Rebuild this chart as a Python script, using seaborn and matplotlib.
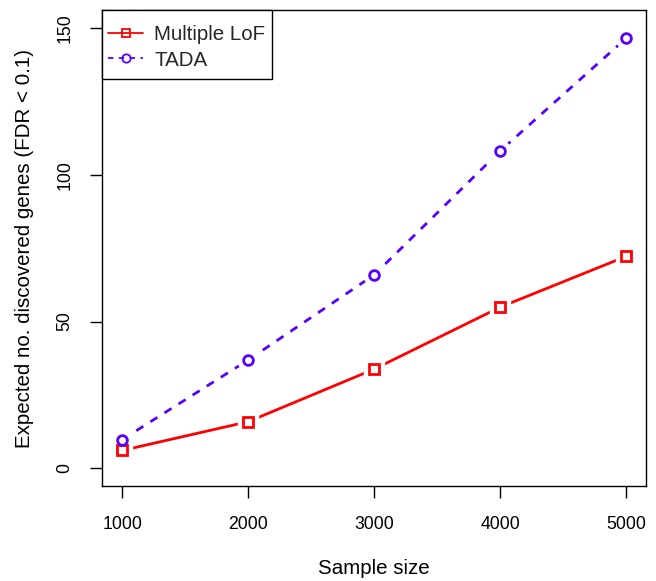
import numpy as np
import pandas as pd
import matplotlib
matplotlib.use("Agg")
import matplotlib.pyplot as plt
from matplotlib.lines import Line2D
from matplotlib.patches import Rectangle
import seaborn as sns

sample_size = [1000, 2000, 3000, 4000, 5000]
multiple_lof = [6.1, 15.9, 33.8, 54.9, 72.2]
tada = [9.8, 36.9, 65.9, 108.1, 146.5]

red = "#FF0000"
blue = "#5500FF"

sns.set_theme(style="ticks")
plt.rcParams["font.family"] = ["Liberation Sans", "DejaVu Sans"]

df = pd.DataFrame({"size": sample_size, "lof": multiple_lof, "tada": tada})

fig = plt.figure(figsize=(6.56, 5.81), dpi=100)
ax = fig.add_axes([0.1555, 0.1635, 0.83, 0.819])

# lines first, then white blobs to leave R-style gaps, then the hollow markers
sns.lineplot(data=df, x="size", y="lof", color=red, linewidth=2, ax=ax)
sns.lineplot(data=df, x="size", y="tada", color=blue, linewidth=2, ax=ax)
ax.lines[-1].set_dashes((3, 3))

ax.plot(df["size"], df["lof"], ls="none", marker="s", ms=14, mfc="white", mec="white", zorder=3)
ax.plot(df["size"], df["tada"], ls="none", marker="o", ms=15, mfc="white", mec="white", zorder=3)
ax.plot(df["size"], df["lof"], ls="none", marker="s", ms=6.8, mfc="none", mec=red, mew=2, zorder=4)
ax.plot(df["size"], df["tada"], ls="none", marker="o", ms=7, mfc="none", mec=blue, mew=2, zorder=4)

ax.set_xlim(840, 5160)
ax.set_ylim(-6, 156)
ax.set_xticks(sample_size)
ax.set_yticks([0, 50, 100, 150])
ax.tick_params(direction="out", length=8.5, width=1, colors="black", labelsize=12.7)
ax.tick_params(axis="x", pad=13)
ax.tick_params(axis="y", pad=12)
for lab in ax.get_yticklabels():
    lab.set_rotation(90)
    lab.set_va("center")
for s in ax.spines.values():
    s.set_color("black")
    s.set_linewidth(1)

ax.set_xlabel("Sample size", fontsize=14.8, color="black", labelpad=19)
ax.set_ylabel("Expected no. discovered genes (FDR < 0.1)", fontsize=14.8, color="black", labelpad=16)

handles = [
    Line2D([], [], color=red, lw=1.3, marker="s", ms=6, mfc="none", mec=red, mew=1.3),
    Line2D([], [], color=blue, lw=1.3, dashes=(3, 3), marker="o", ms=6, mfc="none", mec=blue, mew=1.3),
]
# R-style legend box: less padding left/right than top/bottom, so draw the frame by hand
axh = ax.get_position().height * fig.get_figheight() * fig.dpi
leg = ax.legend(handles, ["Multiple LoF", "TADA"], loc="upper left",
                bbox_to_anchor=(0, 1 - 9 / axh), borderaxespad=0, frameon=False,
                fontsize=14.8, handlelength=1.7, handletextpad=0.55, borderpad=0.3,
                labelspacing=0.3)
fig.canvas.draw()
bb = leg.get_window_extent().transformed(fig.transFigure.inverted())
pos = ax.get_position()
pad_bottom = 3 / (fig.get_figheight() * fig.dpi)
box = Rectangle((pos.x0, bb.y0 - pad_bottom), bb.x1 - pos.x0, pos.y1 - bb.y0 + pad_bottom,
                transform=fig.transFigure, facecolor="white", edgecolor="black",
                linewidth=1, zorder=5)
ax.add_artist(box)
box.set_clip_on(False)
leg.set_zorder(6)

fig.savefig("out.png", dpi=100)
